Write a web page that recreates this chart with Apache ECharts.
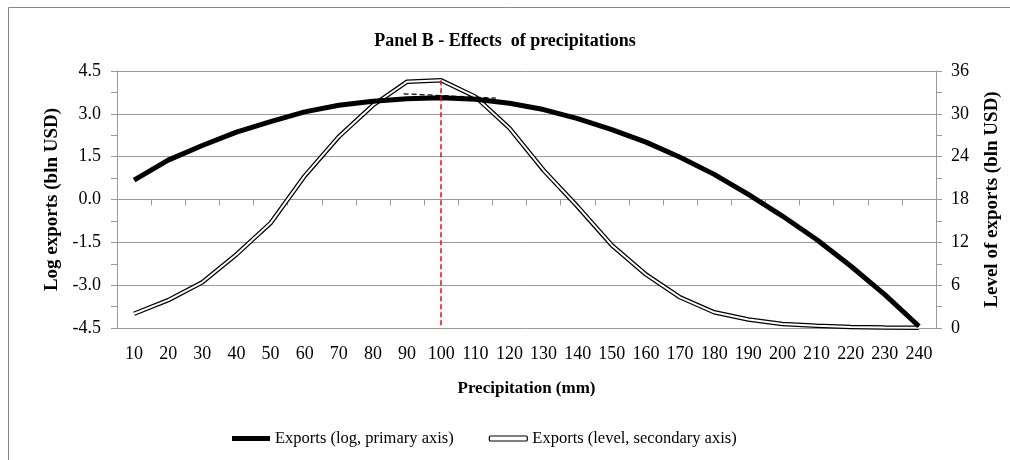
<!DOCTYPE html>
<html>
<head>
<meta charset="utf-8">
<title>Panel B - Effects of precipitations</title>
<script src="https://cdn.jsdelivr.net/npm/echarts@6/dist/echarts.min.js"></script>
<style>
    html, body{
        margin: 0;
        padding: 0;
        background: #fff;
    }
    #chart{
        width: 1010px;
        height: 460px;
    }
</style>
</head>
<body>
<div id="chart"></div>
<script>
    // precipitation categories (mm)
    var precip = ['10','20','30','40','50','60','70','80','90','100','110','120',
                  '130','140','150','160','170','180','190','200','210','220','230','240'];
    // log exports, primary axis
    var logExports = [0.68, 1.38, 1.89, 2.36, 2.73, 3.07, 3.30, 3.44, 3.53, 3.56, 3.51, 3.37,
                      3.15, 2.83, 2.45, 2.01, 1.48, 0.88, 0.18, -0.58, -1.40, -2.33, -3.33, -4.44];
    // level of exports, secondary axis
    var levelExports = [2.0, 3.9, 6.4, 10.3, 14.7, 21.3, 26.8, 31.2, 34.5, 34.7, 32.4, 28.0,
                        22.1, 17.0, 11.6, 7.5, 4.3, 2.2, 1.2, 0.56, 0.32, 0.15, 0.07, 0.02];
    // short dashed segment near the peak: [precipitation, log exports]
    var peakDash = [[89, 3.70], [116, 3.55]];
    // red marker at the optimum
    var optimumX = '100';
    var optimumLevel = 34.7;

    var font = '"Liberation Serif", "Times New Roman", serif';
    var gridColor = '#9a9a9a';

    var myChart = echarts.init(document.getElementById('chart'));
    var option = {
        backgroundColor: '#fff',
        animation: false,
        textStyle: { fontFamily: font, color: '#000' },
        title: {
            text: 'Panel B - Effects  of precipitations',
            left: 'center',
            top: 27,
            textStyle: { fontFamily: font, fontSize: 18, fontWeight: 'bold', color: '#000' }
        },
        graphic: [{
            type: 'rect',
            shape: { x: 8.5, y: 7.5, width: 1020, height: 470 },
            style: { fill: 'none', stroke: '#888', lineWidth: 1 },
            silent: true,
            z: -1
        }],
        legend: {
            left: 227,
            top: 425,
            itemWidth: 38,
            itemHeight: 5,
            itemGap: 35,
            textStyle: { fontFamily: font, fontSize: 16.5, color: '#000' },
            data: [
                { name: 'Exports (log, primary axis)', icon: 'rect',
                  itemStyle: { color: '#000' } },
                { name: 'Exports (level, secondary axis)', icon: 'roundRect',
                  itemStyle: { color: '#fff', borderColor: '#000', borderWidth: 1.2 } }
            ]
        },
        grid: { left: 117, right: 73, top: 71, bottom: 132 },
        xAxis: [{
            // axis line through zero with ticks between categories
            type: 'category',
            data: precip,
            boundaryGap: true,
            axisLine: { onZero: true, lineStyle: { color: gridColor, width: 1 } },
            axisTick: { show: true, interval: 0, length: 6, lineStyle: { color: gridColor } },
            axisLabel: { show: false },
            splitLine: { show: false }
        }, {
            // labels at the bottom of the plot
            type: 'category',
            data: precip,
            position: 'bottom',
            boundaryGap: true,
            axisLine: { show: false, onZero: false },
            axisTick: { show: false },
            axisLabel: { interval: 0, margin: 17, fontFamily: font, fontSize: 18, color: '#000' },
            name: 'Precipitation (mm)',
            nameLocation: 'middle',
            nameGap: 52,
            nameTextStyle: { fontFamily: font, fontSize: 17, fontWeight: 'bold', color: '#000' }
        }, {
            type: 'value',
            min: 5,
            max: 245,
            show: false
        }],
        yAxis: [{
            type: 'value',
            min: -4.5,
            max: 4.5,
            interval: 1.5,
            axisLine: { show: true, lineStyle: { color: gridColor } },
            axisTick: { show: true, length: 6, lineStyle: { color: gridColor } },
            minorTick: { show: true, splitNumber: 2, length: 6, lineStyle: { color: gridColor } },
            axisLabel: {
                margin: 16, fontFamily: font, fontSize: 18, color: '#000',
                formatter: function (v) { return v.toFixed(1); }
            },
            splitLine: { show: true, lineStyle: { color: gridColor, width: 1 } },
            name: 'Log exports (bln USD)',
            nameLocation: 'middle',
            nameRotate: 90,
            nameGap: 54,
            nameTextStyle: { fontFamily: font, fontSize: 19, fontWeight: 'bold', color: '#000' }
        }, {
            type: 'value',
            position: 'right',
            min: 0,
            max: 36,
            interval: 6,
            axisLine: { show: true, lineStyle: { color: gridColor } },
            axisTick: { show: true, length: 6, lineStyle: { color: gridColor } },
            minorTick: { show: true, splitNumber: 2, length: 6, lineStyle: { color: gridColor } },
            axisLabel: { margin: 15, fontFamily: font, fontSize: 18, color: '#000' },
            splitLine: { show: false },
            name: 'Level of exports (bln USD)',
            nameLocation: 'middle',
            nameRotate: 90,
            nameGap: 47,
            nameTextStyle: { fontFamily: font, fontSize: 19, fontWeight: 'bold', color: '#000' }
        }],
        series: [{
            name: 'Exports (level, secondary axis)',
            type: 'line',
            xAxisIndex: 0,
            yAxisIndex: 1,
            data: levelExports,
            symbol: 'none',
            lineStyle: { color: '#000', width: 4.5 },
            itemStyle: { color: '#000' },
            z: 2,
            markLine: {
                silent: true,
                symbol: 'none',
                label: { show: false },
                lineStyle: { color: '#ff0000', type: [5, 3], width: 1.5 },
                data: [[{ coord: [optimumX, optimumLevel] }, { coord: [optimumX, 0] }]]
            }
        }, {
            name: 'Exports (level, secondary axis)',
            type: 'line',
            xAxisIndex: 0,
            yAxisIndex: 1,
            data: levelExports,
            symbol: 'none',
            lineStyle: { color: '#fff', width: 2 },
            itemStyle: { color: '#fff' },
            z: 3
        }, {
            name: 'Exports (log, primary axis)',
            type: 'line',
            xAxisIndex: 0,
            yAxisIndex: 0,
            data: logExports,
            symbol: 'none',
            lineStyle: { color: '#000', width: 5 },
            itemStyle: { color: '#000' },
            z: 4
        }, {
            name: 'peak',
            type: 'line',
            xAxisIndex: 2,
            yAxisIndex: 0,
            data: peakDash,
            symbol: 'none',
            lineStyle: { color: '#000', width: 1.2, type: [5, 3] },
            z: 5
        }]
    };
    myChart.setOption(option);
</script>
</body>
</html>
